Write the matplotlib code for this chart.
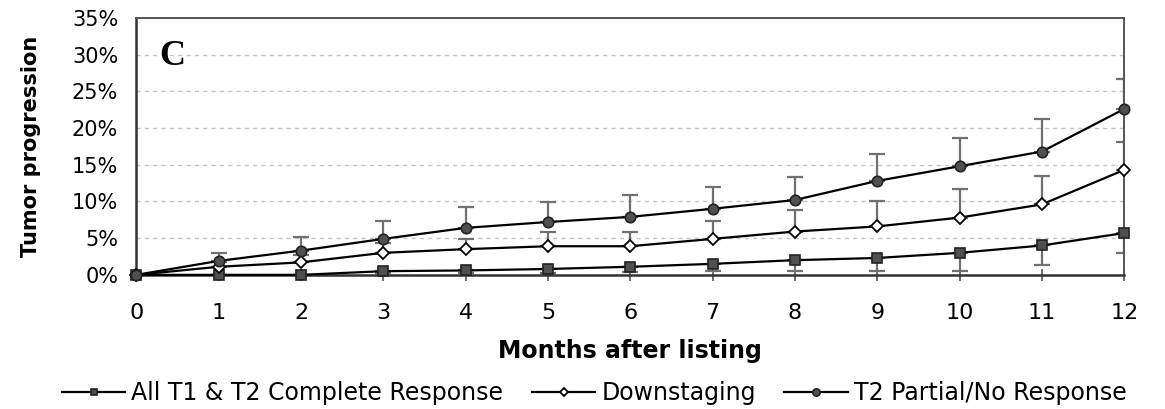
import numpy as np
import matplotlib
matplotlib.use("Agg")
import matplotlib.pyplot as plt
from matplotlib.ticker import PercentFormatter

months = list(range(13))
month_labels = [str(m) for m in months]
y_ticks = [0, 5, 10, 15, 20, 25, 30, 35]

# All T1 & T2 complete response (error bars drawn downward)
complete   = [0.0, 0.0, 0.0, 0.5, 0.6, 0.8, 1.1, 1.5, 2.0, 2.3, 3.0, 4.0, 5.7]
complete_lo = [0.0, 0.0, 0.0, 0.2, 0.2, 0.3, 0.4, 0.5, 0.5, 0.5, 0.5, 1.4, 3.0]

# Downstaging (error bars drawn upward)
downstage    = [0.0, 1.1, 1.7, 3.0, 3.5, 3.9, 3.9, 4.9, 5.9, 6.6, 7.8, 9.6, 14.3]
downstage_hi = [0.0, 1.8, 2.7, 4.4, 4.9, 5.8, 5.8, 7.4, 8.9, 10.1, 11.7, 13.5, 18.1]

# T2 partial / no response (error bars drawn upward)
partial    = [0.0, 1.9, 3.3, 4.9, 6.4, 7.2, 7.9, 9.0, 10.2, 12.8, 14.8, 16.8, 22.6]
partial_hi = [0.0, 3.0, 5.2, 7.4, 9.3, 9.9, 10.9, 12.0, 13.3, 16.5, 18.7, 21.2, 26.7]

labels = ["All T1 & T2 Complete Response", "Downstaging", "T2 Partial/No Response"]

plt.rcParams['font.family'] = ['DejaVu Sans']

fig = plt.figure(figsize=(11.65, 4.09), dpi=100)
ax = fig.add_axes([0.117, 0.328, 0.848, 0.628])

err_kw = dict(fmt='none', ecolor='#707070', elinewidth=1.6, capsize=6, capthick=1.6, zorder=2)
x = np.array(months)
zeros = np.zeros(len(months))

ax.errorbar(x, complete, yerr=[np.array(complete) - np.array(complete_lo), zeros], **err_kw)
ax.errorbar(x, downstage, yerr=[zeros, np.array(downstage_hi) - np.array(downstage)], **err_kw)
ax.errorbar(x, partial, yerr=[zeros, np.array(partial_hi) - np.array(partial)], **err_kw)

h1, = ax.plot(x, complete, '-s', color='black', lw=1.6, ms=7, mfc='#505050', mec='#222222',
              mew=1.2, zorder=4, clip_on=False, label=labels[0])
h2, = ax.plot(x, downstage, '-D', color='black', lw=1.6, ms=6.5, mfc='white', mec='black',
              mew=1.3, zorder=4, clip_on=False, label=labels[1])
h3, = ax.plot(x, partial, '-o', color='black', lw=1.6, ms=7.5, mfc='#505050', mec='#222222',
              mew=1.2, zorder=4, clip_on=False, label=labels[2])

ax.set_xlim(0, 12)
ax.set_ylim(0, 35)
ax.set_xticks(months)
ax.set_xticklabels(month_labels, fontsize=16)
ax.set_yticks(y_ticks)
ax.yaxis.set_major_formatter(PercentFormatter(decimals=0))
ax.tick_params(axis='y', labelsize=15, length=0, pad=13)
ax.tick_params(axis='x', direction='inout', length=8, width=1.2, color='#555555', pad=16)

for yv in y_ticks[1:-1]:
    ax.axhline(yv, color='#c4c4c4', lw=1, ls=(0, (3, 3)), zorder=1)

for side in ['left', 'bottom']:
    ax.spines[side].set_linewidth(1.8)
    ax.spines[side].set_color('#333333')
for side in ['top', 'right']:
    ax.spines[side].set_linewidth(1.4)
    ax.spines[side].set_color('#555555')

ax.set_ylabel("Tumor progression", fontsize=15, fontweight='bold', labelpad=22)
ax.set_xlabel("Months after listing", fontsize=17, fontweight='bold', labelpad=12)

ax.text(0.28, 29.8, "C", fontsize=26, fontweight='bold', family='Liberation Serif',
        va='center', ha='left')

fig.legend(handles=[h1, h2, h3], loc='center', bbox_to_anchor=(0.51, 0.038), ncol=3,
           frameon=False, fontsize=17, handlelength=2.7, columnspacing=1.2,
           handletextpad=0.25, markerscale=0.7)

fig.savefig("out.png", dpi=100)
